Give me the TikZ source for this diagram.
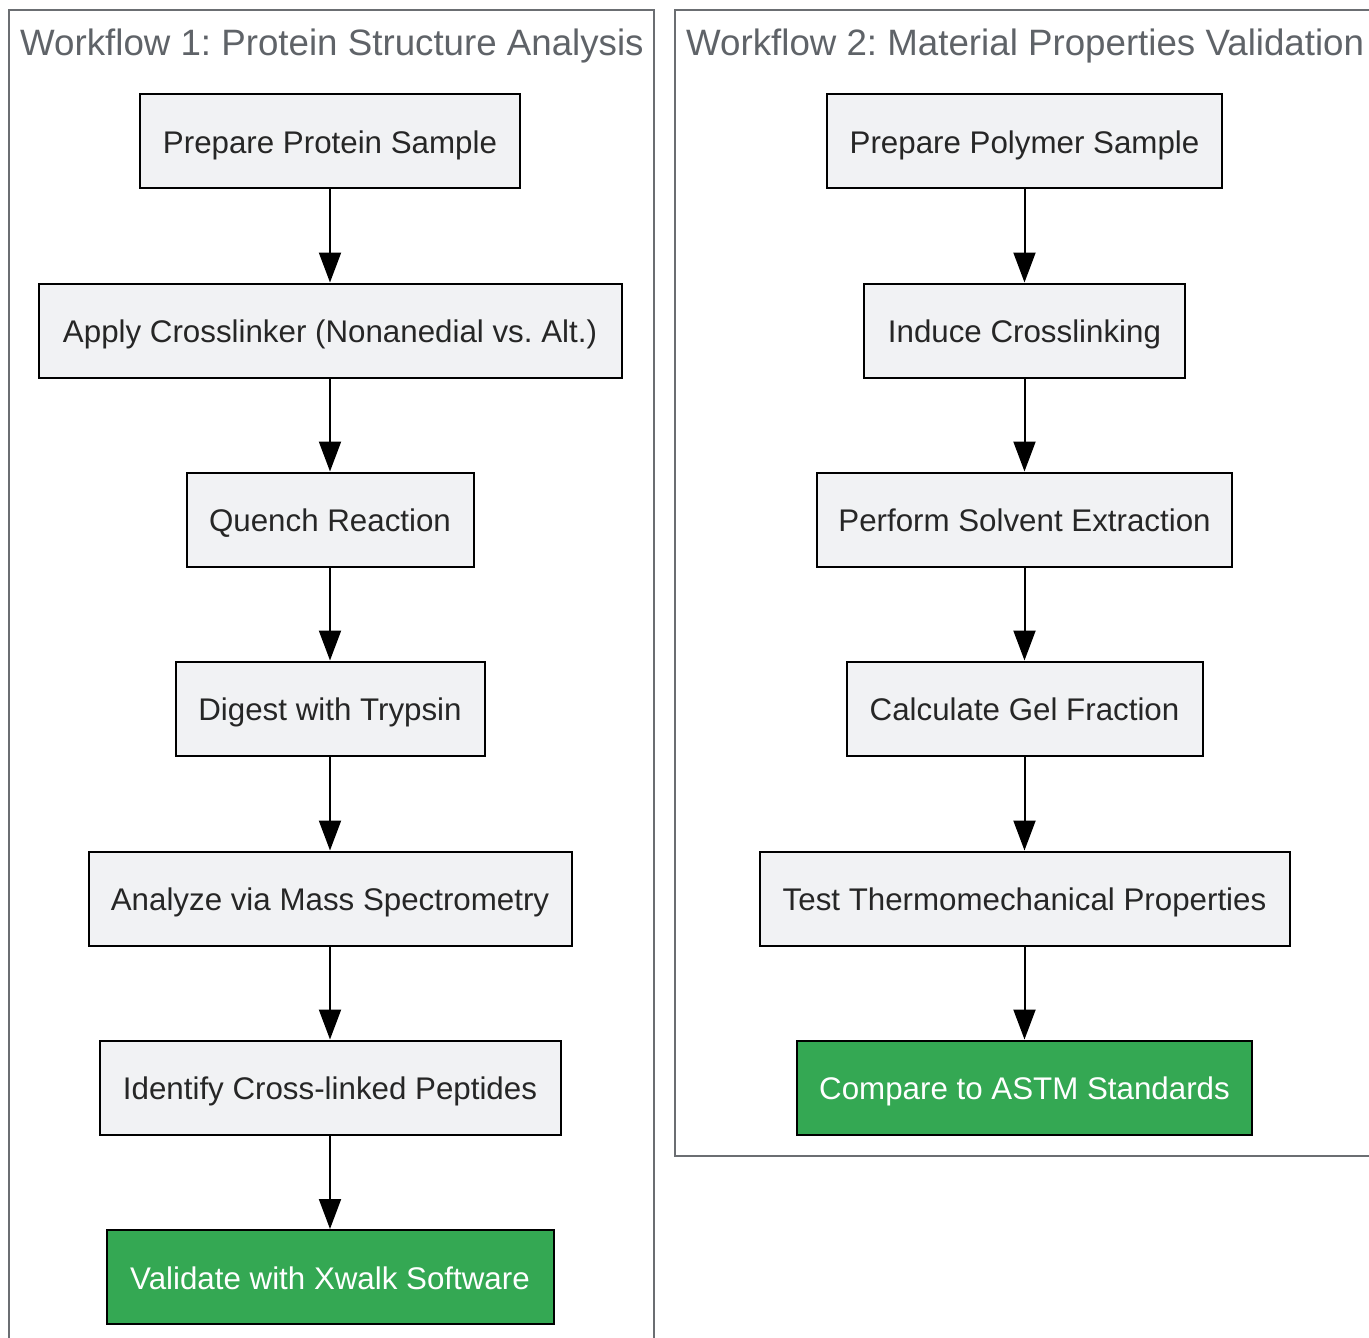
\documentclass[tikz,border=0pt]{standalone}
\usepackage{fontspec}
\setmainfont{Liberation Sans}
\usetikzlibrary{arrows.meta}
\frenchspacing
\definecolor{boxfill}{HTML}{F1F2F4}
\definecolor{okgreen}{HTML}{34A853}
\definecolor{clgray}{HTML}{6B6E72}
\definecolor{titlegray}{HTML}{5F6368}
\tikzset{
  stepbox/.style={draw=black, line width=2pt, fill=boxfill, minimum height=94pt, inner sep=0pt,
    text height=29pt, text depth=5pt,
    font=\fontsize{31.3}{36}\selectfont, text=black!85},
  endbox/.style={stepbox, fill=okgreen, text=white},
  flow/.style={line width=2pt, -{Triangle[length=30pt,width=22pt]}},
  cluster/.style={draw=clgray, line width=2pt},
  cltitle/.style={anchor=west, text=titlegray, font=\fontsize{36.7}{42}\selectfont, inner sep=0pt}
}
\begin{document}
\begin{tikzpicture}[x=1pt,y=-1pt]
\useasboundingbox (0,0) rectangle (1369,1338);
\draw[cluster] (9,1345) -- (9,10) -- (654,10) -- (654,1345);
\draw[cluster] (1375,1156) -- (675,1156) -- (675,10) -- (1375,10);
\node[cltitle] (t1) at (20,46) {Workflow 1: Protein Structure Analysis};
\node[cltitle] (t2) at (686,46) {Workflow 2: Material Properties Validation};

\node[stepbox, minimum width=380pt] (a1) at (330,141) {Prepare Protein Sample};
\node[stepbox, minimum width=583pt] (a2) at (330,330.5) {Apply Crosslinker (Nonanedial vs. Alt.)};
\node[stepbox, minimum width=287pt] (a3) at (330,519.5) {Quench Reaction};
\node[stepbox, minimum width=309pt] (a4) at (330,708.5) {Digest with Trypsin};
\node[stepbox, minimum width=483pt] (a5) at (330,898.5) {Analyze via Mass Spectrometry};
\node[stepbox, minimum width=461pt] (a6) at (330,1087.5) {Identify Cross-linked Peptides};
\node[endbox, minimum width=447pt] (a7) at (330,1277) {Validate with Xwalk Software};

\node[stepbox, minimum width=395pt] (b1) at (1024.5,141) {Prepare Polymer Sample};
\node[stepbox, minimum width=321pt] (b2) at (1024.5,330.5) {Induce Crosslinking};
\node[stepbox, minimum width=415pt] (b3) at (1024.5,519.5) {Perform Solvent Extraction};
\node[stepbox, minimum width=356pt] (b4) at (1024.5,708.5) {Calculate Gel Fraction};
\node[stepbox, minimum width=530pt] (b5) at (1024.5,898.5) {Test Thermomechanical Properties};
\node[endbox, minimum width=455pt] (b6) at (1024.5,1087.5) {Compare to ASTM Standards};

\foreach \p/\q in {a1/a2,a2/a3,a3/a4,a4/a5,a5/a6,a6/a7,b1/b2,b2/b3,b3/b4,b4/b5,b5/b6}
  \draw[flow] (\p) -- (\q);
\end{tikzpicture}
\end{document}
